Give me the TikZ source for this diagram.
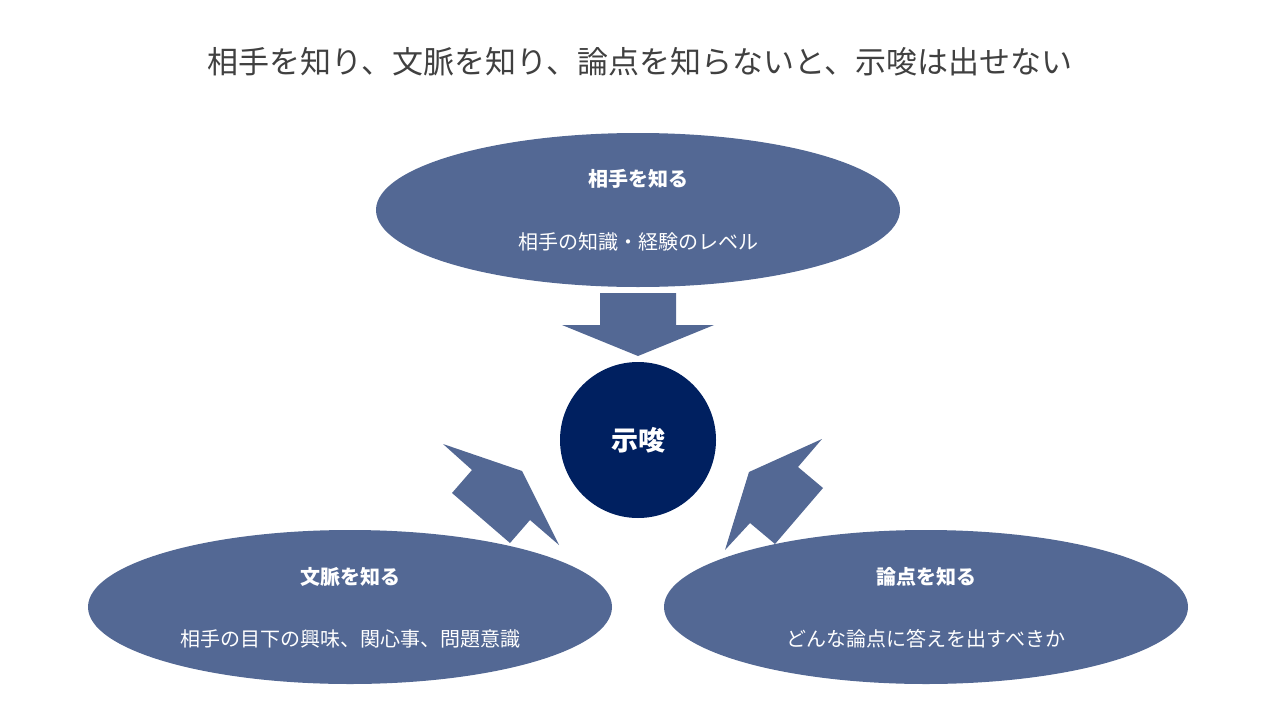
\documentclass[tikz,border=0pt]{standalone}
\usepackage{fontspec}
\setmainfont{Noto Sans CJK JP}
\newfontfamily\jpb{Noto Sans CJK JP Bold}
\definecolor{blu}{RGB}{83,104,148}
\definecolor{navy}{RGB}{0,32,96}
\definecolor{tgray}{RGB}{64,64,64}
\begin{document}
\begin{tikzpicture}[x=1pt,y=-1pt,
  ell/.style={fill=blu,draw=none,ellipse},
  arr/.style={fill=blu,draw=none},
  hd/.style={text=white,font=\fontsize{20}{24}\selectfont\bfseries},
  tx/.style={text=white,font=\fontsize{20}{24}\selectfont}]
\useasboundingbox (0,0) rectangle (1280,720);
\node[text=tgray,font=\fontsize{31}{36}\selectfont] (title) at (640,62) {相手を知り、文脈を知り、論点を知らないと、示唆は出せない};
\fill[blu] (638,210) ellipse [x radius=262,y radius=77];
\fill[blu] (350,607) ellipse [x radius=262,y radius=77];
\fill[blu] (926,607) ellipse [x radius=262,y radius=77];
\node[hd] (h1) at (638,179) {相手を知る};
\node[tx] (t1) at (638,242) {相手の知識・経験のレベル};
\node[hd] (h2) at (350,577) {文脈を知る};
\node[tx] (t2) at (350,639) {相手の目下の興味、関心事、問題意識};
\node[hd] (h3) at (926,577) {論点を知る};
\node[tx] (t3) at (926,639) {どんな論点に答えを出すべきか};
\fill[navy] (638,440) circle (78);
\node[text=white,font=\fontsize{27}{30}\selectfont\bfseries] (c) at (638,440) {示唆};
\fill[blu] (600,293) -- (676,293) -- (676,325) -- (714,325) -- (638,356) -- (562,325) -- (600,325) -- cycle;
\fill[blu] (443,444) -- (522,471) -- (559,545) -- (530,520) -- (510,543) -- (452,493) -- (472,470) -- cycle;
\fill[blu] (822,439) -- (749,472) -- (725,550) -- (750,523) -- (775,544) -- (823,488) -- (798,467) -- cycle;
\end{tikzpicture}
\end{document}
